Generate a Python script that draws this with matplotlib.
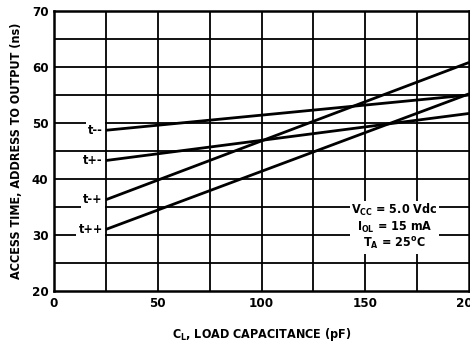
import matplotlib
matplotlib.use("Agg")
import matplotlib.pyplot as plt

# Load capacitance (pF) and access time (ns) at the ends of each straight curve
cap = [25, 200]
curve_names = ["t--", "t+-", "t-+", "t++"]
t_mm = [48.7, 55.0]
t_pm = [43.3, 51.7]
t_mp = [36.3, 60.8]
t_pp = [31.0, 55.2]
curves = [t_mm, t_pm, t_mp, t_pp]

x_ticks = [0, 50, 100, 150, 200]
y_ticks = [20, 30, 40, 50, 60, 70]
conditions = "$V_{CC}$ = 5.0 Vdc\n$I_{OL}$ = 15 mA\n$T_A$ = 25$^o$C"

plt.rcParams["font.family"] = ["DejaVu Sans"]
plt.rcParams["font.stretch"] = "condensed"
plt.rcParams["font.weight"] = "bold"
plt.rcParams["mathtext.fontset"] = "custom"
plt.rcParams["mathtext.default"] = "rm"
plt.rcParams["mathtext.rm"] = "DejaVu Sans:weight=bold:stretch=condensed"
plt.rcParams["mathtext.it"] = "DejaVu Sans:weight=bold:stretch=condensed"
plt.rcParams["mathtext.bf"] = "DejaVu Sans:weight=bold:stretch=condensed"

fig = plt.figure(figsize=(4.70, 3.42), dpi=100)
ax = fig.add_axes([0.1149, 0.149, 0.8830, 0.819])
ax.set_xlim(0, 200)
ax.set_ylim(20, 70)

# grid: every 25 pF and every 5 ns
for gx in range(25, 200, 25):
    ax.axvline(gx, color="black", lw=1.3, zorder=1)
for gy in range(25, 70, 5):
    ax.axhline(gy, color="black", lw=1.3, zorder=1)

for name, vals in zip(curve_names, curves):
    ax.plot(cap, vals, color="black", lw=2.0, solid_capstyle="butt", zorder=3)
    ax.text(cap[0] - 1.5, vals[0], name, ha="right", va="center", fontsize=9,
            fontweight="bold", zorder=4,
            bbox=dict(facecolor="white", edgecolor="none", pad=1.5))

ax.text(164, 31.4, conditions, ha="center", va="center", fontsize=9,
        fontweight="bold", linespacing=1.12, zorder=4,
        bbox=dict(facecolor="white", edgecolor="none", pad=1.0))

ax.set_xticks(x_ticks)
ax.set_yticks(y_ticks)
ax.tick_params(length=0, labelsize=9.5, pad=4)
for lab in ax.get_xticklabels() + ax.get_yticklabels():
    lab.set_fontweight("bold")
for sp in ax.spines.values():
    sp.set_linewidth(1.8)

ax.set_xlabel("$C_L$, LOAD CAPACITANCE (pF)", fontsize=9, fontweight="bold", labelpad=12)
ax.set_ylabel("ACCESS TIME, ADDRESS TO OUTPUT (ns)", fontsize=9, fontweight="bold", labelpad=6)

fig.savefig("out.png", dpi=100, facecolor="white")
